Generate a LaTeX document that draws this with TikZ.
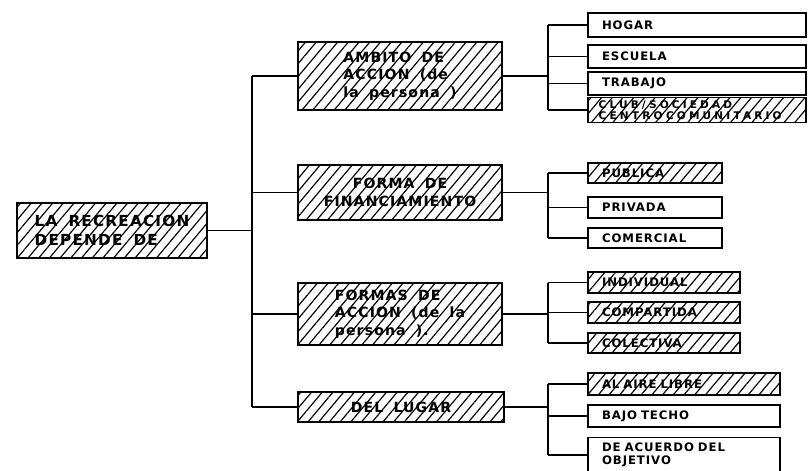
\documentclass[tikz,border=0pt]{standalone}
\usepackage{fontspec}
\setmainfont{DejaVu Sans}[LetterSpace=8, WordSpace=1.7]
\newfontfamily\widefont{DejaVu Sans}[LetterSpace=30, WordSpace=1.7]
\usetikzlibrary{patterns.meta}
\tikzset{
  box/.style={draw, line width=1.3pt, inner sep=0pt, align=left, font=\bfseries\fontsize{12}{15}\selectfont},
  hatch/.style={pattern={Lines[angle=50,distance=7pt,line width=1pt]}},
  leaf/.style={draw, line width=1.2pt, inner xsep=0.42cm, inner ysep=0pt, text width=#1, align=left, font=\bfseries\fontsize{10}{11}\selectfont},
  link/.style={line width=1.1pt},
}
\begin{document}
\begin{tikzpicture}[x=0.03cm, y=-0.03cm]
\useasboundingbox (0,0) rectangle (808,470);
\node[box, hatch, minimum width=5.7cm, minimum height=1.65cm, font=\bfseries\fontsize{13}{16}\selectfont] (root) at (112,230.5) {LA RECREACION\\DEPENDE DE};
\node[box, hatch, minimum width=6.12cm, minimum height=2.04cm] (ambito) at (400,76) {AMBITO DE\\ACCION (de\\la persona )};
\node[box, hatch, minimum width=6.12cm, minimum height=1.65cm, align=center] (forma) at (400,192.5) {FORMA DE\\FINANCIAMIENTO};
\node[box, hatch, minimum width=6.12cm, minimum height=1.86cm] (formas) at (400,314) {FORMAS DE\\ACCION (de la\\persona ).};
\node[box, hatch, minimum width=6.18cm, minimum height=0.9cm] (lugar) at (401,407) {DEL LUGAR};
\node[leaf=5.7cm, minimum height=0.72cm] (hogar) at (697,25) {HOGAR};
\node[leaf=5.7cm, minimum height=0.69cm] (escuela) at (697,56.5) {ESCUELA};
\node[leaf=5.7cm, minimum height=0.69cm] (trabajo) at (697,83.5) {TRABAJO};
\node[leaf=5.9cm, hatch, minimum height=0.75cm, inner xsep=0.32cm, font=\widefont\bfseries\fontsize{9}{9.5}\selectfont] (club) at (697,110) {CLUB/SOCIEDAD\\CENTRO COMUNITARIO};
\node[leaf=3.18cm, hatch, minimum height=0.6cm] (publica) at (655,173) {PUBLICA};
\node[leaf=3.18cm, minimum height=0.63cm] (privada) at (655,207.5) {PRIVADA};
\node[leaf=3.18cm, minimum height=0.6cm] (comercial) at (655,238) {COMERCIAL};
\node[leaf=3.72cm, hatch, minimum height=0.63cm] (individual) at (664,282.5) {INDIVIDUAL};
\node[leaf=3.72cm, hatch, minimum height=0.63cm] (compartida) at (664,312.5) {COMPARTIDA};
\node[leaf=3.72cm, hatch, minimum height=0.6cm] (colectiva) at (664,343) {COLECTIVA};
\node[leaf=4.92cm, hatch, minimum height=0.66cm] (aire) at (684,384) {AL AIRE LIBRE};
\node[leaf=4.92cm, minimum height=0.66cm] (techo) at (684,416) {BAJO TECHO};
\node[leaf=4.92cm, minimum height=1.05cm] (objetivo) at (684,455) {DE ACUERDO DEL\\OBJETIVO};
\coordinate (trunk) at (252,0);
\coordinate (fork) at (548,0);
\draw[link] (root.east) -- (root.east -| trunk);
\draw[link] (trunk |- ambito.west) -- (trunk |- lugar.west);
\foreach \n in {ambito,forma,formas,lugar}
  \draw[link] (trunk |- \n.west) -- (\n.west);
\foreach \m/\a/\b/\list in {ambito/hogar/club/{hogar,escuela,trabajo,club},
    forma/publica/comercial/{publica,privada,comercial},
    formas/individual/colectiva/{individual,compartida,colectiva},
    lugar/aire/objetivo/{aire,techo,objetivo}} {
  \draw[link] (\m.east) -- (\m.east -| fork);
  \draw[link] (fork |- \a.west) -- (fork |- \b.west);
  \foreach \n in \list
    \draw[link] (fork |- \n.west) -- (\n.west);
}
\end{tikzpicture}
\end{document}
